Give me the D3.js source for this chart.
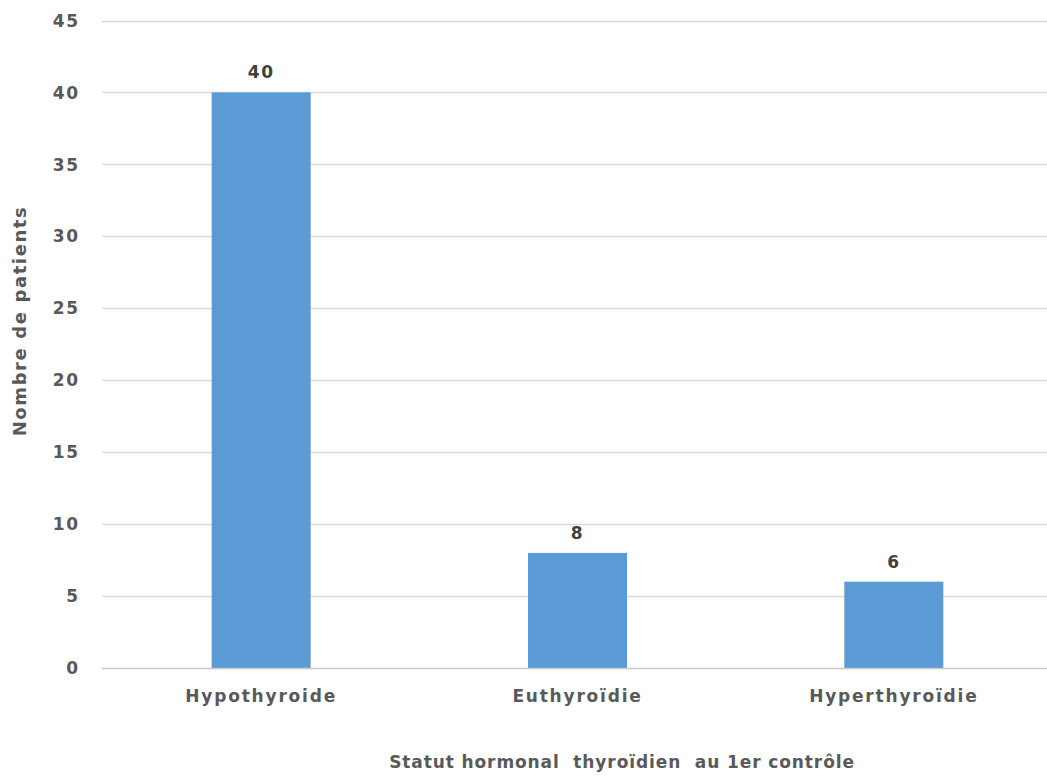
<!DOCTYPE html>
<html><head><meta charset="utf-8">
<script src="https://cdn.jsdelivr.net/npm/d3@7"></script>
<style>
html,body{margin:0;padding:0;background:#fff;}
svg text{font-family:"DejaVu Sans",Verdana,sans-serif;font-weight:bold;fill:#595959;}
</style></head>
<body>
<svg id="chart" width="1047" height="776"></svg>
<script>
const categories = ["Hypothyroide", "Euthyroïdie", "Hyperthyroïdie"];
const values = [40, 8, 6];
const yTicks = [0, 5, 10, 15, 20, 25, 30, 35, 40, 45];
const xTitle = "Statut hormonal\u00a0 thyroïdien\u00a0 au 1er contrôle";
const yTitle = "Nombre de patients";

const svg = d3.select("#chart");
const x = d3.scaleBand().domain(categories).range([103, 1052]).paddingInner(0.687).paddingOuter(0.3435);
const y = d3.scaleLinear().domain([0, 45]).range([668, 20.5]);

// gridlines
svg.append("g").selectAll("line").data(yTicks.filter(d => d > 0)).join("line")
  .attr("x1", 102).attr("x2", 1047)
  .attr("y1", d => Math.round(y(d)) + 0.5).attr("y2", d => Math.round(y(d)) + 0.5)
  .attr("stroke", "#d9d9d9").attr("stroke-width", 1.5);

// y tick labels
svg.append("g").selectAll("text").data(yTicks).join("text")
  .attr("x", 80).attr("y", d => y(d)).attr("dy", "0.36em")
  .attr("text-anchor", "end").style("font-size", "17px").style("letter-spacing", "1.8px")
  .text(d => d);

// bars
svg.append("g").selectAll("rect").data(values).join("rect")
  .attr("x", (d, i) => x(categories[i])).attr("width", x.bandwidth())
  .attr("y", d => y(d)).attr("height", d => y(0) - y(d))
  .attr("fill", "#5b9bd5");

// baseline
svg.append("line").attr("x1", 102).attr("x2", 1047)
  .attr("y1", y(0) + 0.5).attr("y2", y(0) + 0.5)
  .attr("stroke", "#c8c8c8").attr("stroke-width", 1.5);

// data labels
svg.append("g").selectAll("text").data(values).join("text")
  .attr("x", (d, i) => x(categories[i]) + x.bandwidth() / 2)
  .attr("y", d => y(d) - 14)
  .attr("text-anchor", "middle").style("font-size", "17px").style("letter-spacing", "1.5px")
  .style("fill", "#404040")
  .text(d => d);

// category labels
svg.append("g").selectAll("text").data(categories).join("text")
  .attr("x", d => x(d) + x.bandwidth() / 2).attr("y", 702)
  .attr("text-anchor", "middle").style("font-size", "17px").style("letter-spacing", "1.8px")
  .text(d => d);

// axis titles
svg.append("text").attr("x", 622).attr("y", 768).attr("text-anchor", "middle")
  .style("font-size", "17px").style("letter-spacing", "0.9px").text(xTitle);
svg.append("text").attr("transform", "translate(26,321) rotate(-90)").attr("text-anchor", "middle")
  .style("font-size", "18px").style("letter-spacing", "1.6px").text(yTitle);
</script>
</body></html>
